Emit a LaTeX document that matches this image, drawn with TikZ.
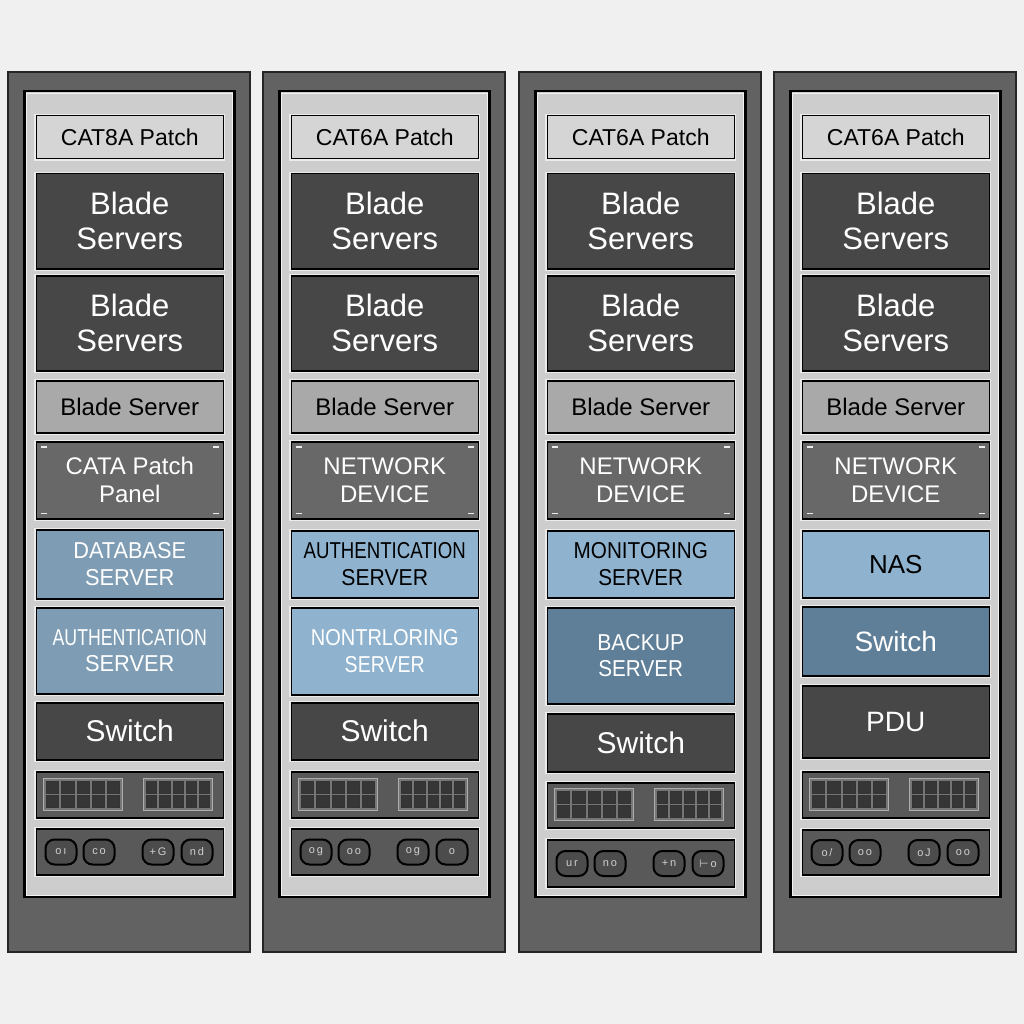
\documentclass[tikz,border=0pt]{standalone}
\usepackage{fontspec}
\setmainfont{Liberation Sans}
\newfontfamily\symfont{DejaVu Sans}
\usetikzlibrary{calc}

\definecolor{bg}{HTML}{F0F0F0}
\definecolor{rackgray}{HTML}{626262}
\definecolor{panelgray}{HTML}{CDCDCD}
\definecolor{patchgray}{HTML}{D5D5D5}
\definecolor{bladedark}{HTML}{474747}
\definecolor{blademid}{HTML}{A9A9A9}
\definecolor{netgray}{HTML}{686868}
\definecolor{steelblue}{HTML}{7E9DB4}
\definecolor{lightblue}{HTML}{8FB3CF}
\definecolor{deepblue}{HTML}{5F7F99}
\definecolor{portpanel}{HTML}{595959}
\definecolor{portcell}{HTML}{363636}
\definecolor{portframe}{HTML}{767676}
\definecolor{portedge}{HTML}{ADADAD}
\definecolor{sockfill}{HTML}{4C4C4C}
\definecolor{glyph}{HTML}{D0D0D0}

% horizontal squeeze for condensed labels
\newcommand{\sx}[2]{\scalebox{#1}[1]{#2}}

% rack cabinet: outer frame and inner mounting panel
\newcommand{\rackframe}[1]{%
  \draw[rackouter] (#1,72) rectangle ++(242,880);
  \draw[rackinner] ({#1+16.5},91) rectangle ++(210,806);
  \draw[white!90!gray, line width=0.7pt] ({#1+18.6},93.1) rectangle ++(205.8,801.8);
}

% one mounted unit: name, rack x, top, bottom, style, label
\newcommand{\ru}[6]{%
  \node[unitbox,#5,minimum width=187pt,minimum height={(#4-#3)*1pt},anchor=north west]
    (#1) at ({#2+27.5},#3) {#6};
}

% corner screw marks of a panel
\newcommand{\screws}[1]{%
  \draw[screw] ($(#1.north west)+(5,6)$) -- ++(6,0);
  \draw[screw] ($(#1.north east)+(-11,6)$) -- ++(6,0);
  \draw[screw] ($(#1.south west)+(5,-6)$) -- ++(6,0);
  \draw[screw] ($(#1.south east)+(-11,-6)$) -- ++(6,0);
}

% block of 2x5 ports: x, y, width
\newcommand{\portblock}[3]{%
  \filldraw[fill=portframe,draw=portedge,line width=1pt] (#1,#2) rectangle ++(#3,32);
  \pgfmathsetmacro{\cellw}{(#3-18)/5}
  \foreach \pc in {0,...,4}{
    \foreach \pr in {0,1}{
      \filldraw[fill=portcell,draw=black!80,line width=0.5pt]
        ({#1+3+\pc*(\cellw+3)},{#2+3+\pr*14}) rectangle ++(\cellw,12);
    }
  }
}

% patch panel with two port blocks: name, rack x, top, bottom
\newcommand{\ports}[4]{%
  \ru{#1}{#2}{#3}{#4}{fill=portpanel}{}
  \begin{scope}[shift={({#2+27.5},{#3+(#4-#3-32)/2})}]
    \portblock{8}{0}{79}
    \portblock{108}{0}{69}
  \end{scope}
}

% power panel with four sockets: prefix, rack x, top, bottom, four socket marks
\newcommand{\sockets}[8]{%
  \ru{#1pdu}{#2}{#3}{#4}{fill=portpanel}{}
  \node[sock] (#1sa) at ({#2+27.5+9},{#3+(#4-#3-25)/2}) {#5};
  \node[sock] (#1sb) at ({#2+27.5+47},{#3+(#4-#3-25)/2}) {#6};
  \node[sock] (#1sc) at ({#2+27.5+106},{#3+(#4-#3-25)/2}) {#7};
  \node[sock] (#1sd) at ({#2+27.5+145},{#3+(#4-#3-25)/2}) {#8};
}

\begin{document}
\begin{tikzpicture}[x=1pt,y=-1pt,
  rackouter/.style={fill=rackgray,draw=black!85,line width=1.4pt},
  rackinner/.style={fill=panelgray,draw=black,line width=2.2pt},
  unitbox/.style={draw=black,line width=1.5pt,inner sep=0pt,align=center,
    preaction={draw=white!92!black,line width=3.7pt}},
  patchbox/.style={fill=patchgray,text=black,font=\fontsize{23}{27}\selectfont},
  bladebox/.style={fill=bladedark,text=white,font=\fontsize{31}{35}\selectfont},
  serverbox/.style={fill=blademid,text=black,font=\fontsize{24}{28}\selectfont},
  netbox/.style={fill=netgray,text=white,font=\fontsize{24}{28}\selectfont},
  steelbox/.style={fill=steelblue,text=white,font=\fontsize{23}{26.5}\selectfont},
  lightbox/.style={fill=lightblue,font=\fontsize{23}{26.5}\selectfont},
  deepbox/.style={fill=deepblue,text=white,font=\fontsize{23}{26.5}\selectfont},
  switchbox/.style={fill=bladedark,text=white,font=\fontsize{30}{34}\selectfont},
  screw/.style={draw=white!85!gray,line width=1.1pt},
  sock/.style={draw=black,fill=sockfill,line width=2pt,rounded corners=9pt,
    minimum width=31pt,minimum height=25pt,inner sep=0pt,anchor=north west,
    text=glyph,font=\fontsize{11}{11}\selectfont}
]
\useasboundingbox (0,0) rectangle (1024,1024);
\fill[bg] (0,0) rectangle (1024,1024);

% ---------------- rack 1 ----------------
\rackframe{8}
\ru{r1patch}{8}{115}{158}{patchbox}{CAT8A Patch}
\ru{r1bladeA}{8}{173}{268}{bladebox}{Blade\\Servers}
\ru{r1bladeB}{8}{275}{370}{bladebox}{Blade\\Servers}
\ru{r1server}{8}{380}{432}{serverbox}{Blade Server}
\ru{r1net}{8}{441}{518}{netbox}{CATA Patch\\Panel}
\screws{r1net}
\ru{r1db}{8}{529}{598}{steelbox}{\sx{0.945}{DATABASE}\\\sx{0.95}{SERVER}}
\ru{r1auth}{8}{607}{693}{steelbox}{\sx{0.77}{AUTHENTICATION}\\\sx{0.95}{SERVER}}
\ru{r1switch}{8}{702}{759}{switchbox}{Switch}
\ports{r1ports}{8}{771}{817}
\sockets{r1}{8}{828}{874}{o\,ı}{c\,o}{+\,G}{n\,d}

% ---------------- rack 2 ----------------
\rackframe{263}
\ru{r2patch}{263}{115}{158}{patchbox}{CAT6A Patch}
\ru{r2bladeA}{263}{173}{268}{bladebox}{Blade\\Servers}
\ru{r2bladeB}{263}{275}{370}{bladebox}{Blade\\Servers}
\ru{r2server}{263}{380}{432}{serverbox}{Blade Server}
\ru{r2net}{263}{441}{518}{netbox}{NETWORK\\DEVICE}
\screws{r2net}
\ru{r2auth}{263}{530}{597}{lightbox}{\sx{0.81}{AUTHENTICATION}\\\sx{0.92}{SERVER}}
\ru{r2mon}{263}{607}{694}{lightbox,text=white}{\sx{0.87}{NONTRLORING}\\\sx{0.85}{SERVER}}
\ru{r2switch}{263}{702}{759}{switchbox}{Switch}
\ports{r2ports}{263}{771}{817}
\sockets{r2}{263}{828}{874}{o\,g}{o\,o}{o\,g}{o}

% ---------------- rack 3 ----------------
\rackframe{519}
\ru{r3patch}{519}{115}{158}{patchbox}{CAT6A Patch}
\ru{r3bladeA}{519}{173}{268}{bladebox}{Blade\\Servers}
\ru{r3bladeB}{519}{275}{370}{bladebox}{Blade\\Servers}
\ru{r3server}{519}{380}{432}{serverbox}{Blade Server}
\ru{r3net}{519}{441}{518}{netbox}{NETWORK\\DEVICE}
\screws{r3net}
\ru{r3mon}{519}{530}{597}{lightbox}{\sx{0.9}{MONITORING}\\\sx{0.9}{SERVER}}
\ru{r3backup}{519}{607}{703}{deepbox}{\sx{0.92}{BACKUP}\\\sx{0.9}{SERVER}}
\ru{r3switch}{519}{713}{771}{switchbox}{Switch}
\ports{r3ports}{519}{782}{827}
\sockets{r3}{519}{839}{886}{u\,r}{n\,o}{+\,n}{{\symfont ⊢}\,o}

% ---------------- rack 4 ----------------
\rackframe{774}
\ru{r4patch}{774}{115}{158}{patchbox}{CAT6A Patch}
\ru{r4bladeA}{774}{173}{268}{bladebox}{Blade\\Servers}
\ru{r4bladeB}{774}{275}{370}{bladebox}{Blade\\Servers}
\ru{r4server}{774}{380}{432}{serverbox}{Blade Server}
\ru{r4net}{774}{441}{518}{netbox}{NETWORK\\DEVICE}
\screws{r4net}
\ru{r4nas}{774}{530}{597}{lightbox,font=\fontsize{26}{30}\selectfont}{NAS}
\ru{r4switch}{774}{606}{675}{deepbox,font=\fontsize{28}{32}\selectfont}{Switch}
\ru{r4pdu}{774}{685}{757}{switchbox,font=\fontsize{28}{32}\selectfont}{PDU}
\ports{r4ports}{774}{771}{817}
\sockets{r4}{774}{829}{874}{o\,/}{o\,o}{o\,J}{o\,o}
\end{tikzpicture}
\end{document}
